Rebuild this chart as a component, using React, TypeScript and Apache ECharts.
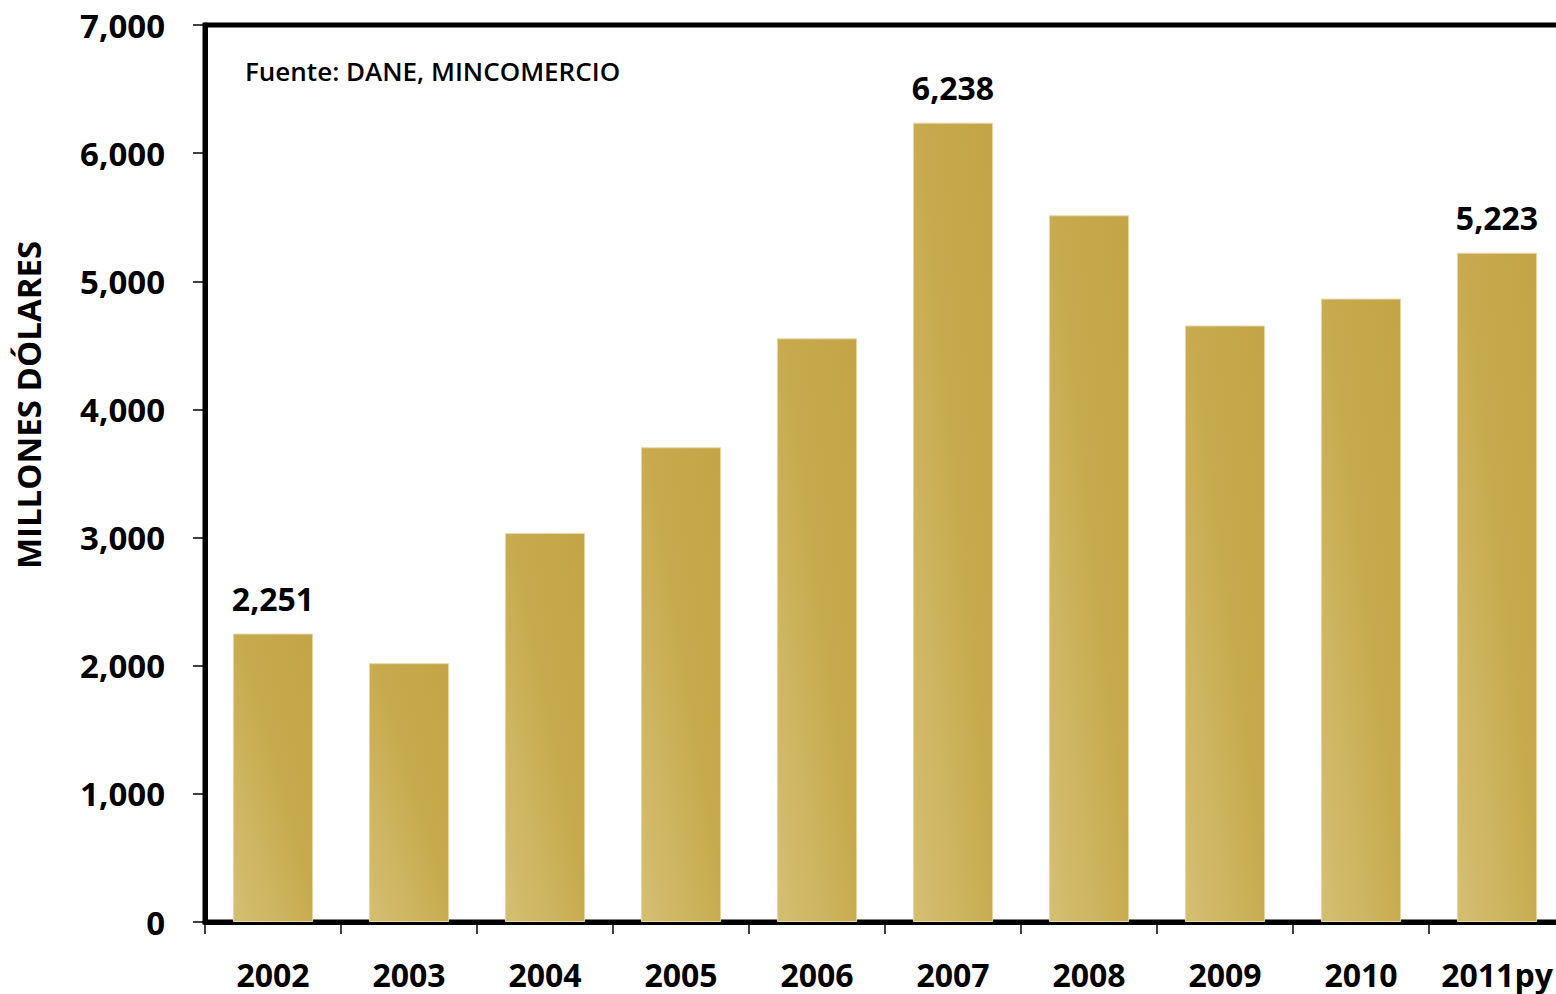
import React, { useEffect, useRef } from "react";
import * as echarts from "echarts";

const categories = ["2002", "2003", "2004", "2005", "2006", "2007", "2008", "2009", "2010", "2011py"];
const values = [2251, 2020, 3035, 3705, 4555, 6238, 5515, 4655, 4865, 5223];
const labeledIndices = [0, 5, 9];
const yTicks = [0, 1000, 2000, 3000, 4000, 5000, 6000, 7000];
const sourceText = "Fuente: DANE, MINCOMERCIO";
const yAxisTitle = "MILLONES DÓLARES";

const FONT = "'Open Sans', 'Noto Sans', sans-serif";

export default function App() {
  const ref = useRef<HTMLDivElement>(null);
  useEffect(() => {
    document.body.style.margin = "0";
    document.body.style.overflow = "hidden";
    const chart = echarts.init(ref.current!, undefined, { renderer: "svg" });
    const gradient = new echarts.graphic.LinearGradient(0, 1, 1, 0, [
      { offset: 0, color: "#D5BF74" },
      { offset: 0.55, color: "#C6AA4D" },
      { offset: 1, color: "#C3A547" },
    ]);
    chart.setOption({
      animation: false,
      grid: {
        left: 205,
        top: 25,
        width: 1360,
        height: 897,
        show: true,
        borderColor: "#000",
        borderWidth: 5,
        containLabel: false,
      },
      xAxis: {
        type: "category",
        data: categories,
        axisLine: { lineStyle: { color: "#000", width: 5 } },
        axisTick: { show: true, interval: 0, length: 12, lineStyle: { color: "#000", width: 1.5 } },
        axisLabel: {
          interval: 0,
          color: "#000",
          fontFamily: FONT,
          fontWeight: "bold",
          fontSize: 32,
          margin: 36,
        },
      },
      yAxis: {
        type: "value",
        min: yTicks[0],
        max: yTicks[yTicks.length - 1],
        interval: 1000,
        splitLine: { show: false },
        axisLine: { show: true, lineStyle: { color: "#000", width: 5 } },
        axisTick: { show: true, length: 12, lineStyle: { color: "#000", width: 1.5 } },
        axisLabel: {
          color: "#000",
          fontFamily: FONT,
          fontWeight: "bold",
          fontSize: 33,
          margin: 40,
          formatter: (v: number) => v.toLocaleString("en-US"),
        },
      },
      series: [
        {
          type: "bar",
          data: values.map((v, i) => ({
            value: v,
            label: { show: labeledIndices.includes(i) },
          })),
          barCategoryGap: "41%",
          itemStyle: { color: gradient, borderColor: "#E6D8A8", borderWidth: 1 },
          label: {
            show: false,
            position: "top",
            distance: 19,
            color: "#000",
            fontFamily: FONT,
            fontWeight: "bold",
            fontSize: 32,
            formatter: (p: any) => Number(p.value).toLocaleString("en-US"),
          },
        },
      ],
      graphic: [
        {
          type: "text",
          left: 245,
          top: 58,
          style: {
            text: sourceText,
            fill: "#000",
            font: `600 26px ${FONT}`,
          },
        },
        {
          type: "text",
          x: 28,
          y: 405,
          rotation: Math.PI / 2,
          style: {
            text: yAxisTitle,
            fill: "#000",
            font: `bold 33px ${FONT}`,
            align: "center",
            verticalAlign: "middle",
          },
        },
      ],
    });
    return () => chart.dispose();
  }, []);
  return (
    <div style={{ position: "fixed", left: 0, top: 0, width: 1556, height: 994, overflow: "hidden", background: "#fff" }}>
      <div ref={ref} style={{ width: 1570, height: 994 }} />
    </div>
  );
}
